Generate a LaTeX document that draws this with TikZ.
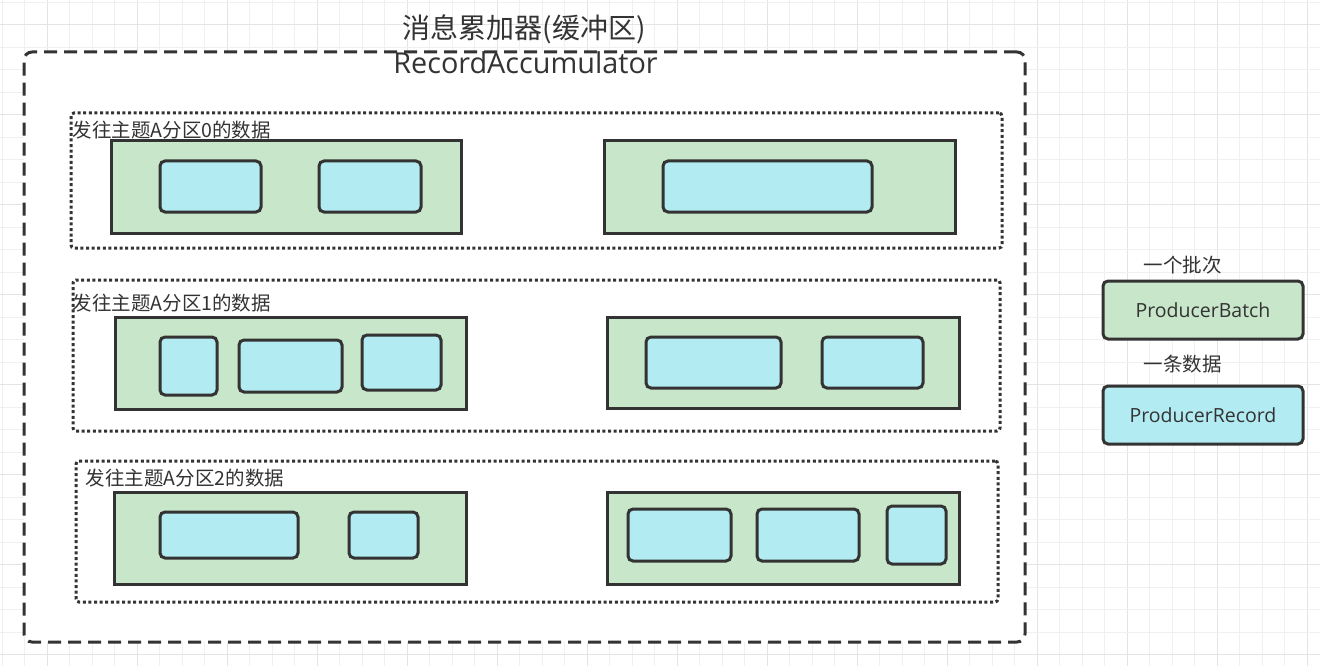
\documentclass[tikz,border=0pt]{standalone}
\usepackage{fontspec}
\setmainfont{Noto Sans CJK SC}
\newfontfamily\latinfont{Open Sans}
\definecolor{ink}{HTML}{333333}
\definecolor{batchfill}{HTML}{C8E6C9}
\definecolor{recfill}{HTML}{B2EBF2}
\definecolor{gridminor}{HTML}{F0F0F0}
\definecolor{gridmajor}{HTML}{E4E4E4}
\newcommand\placebox[6]{\node[#1, minimum width={#5-#3}, minimum height={#6-#4}] (#2) at ({(#3+#5)/2},{(#4+#6)/2}) {};}
\begin{document}
\begin{tikzpicture}[x=1pt,y=-1pt,
  outerbox/.style={draw=ink, line width=3pt, dash pattern=on 13pt off 7pt, rounded corners=8pt, fill=white, inner sep=0pt, outer sep=0pt},
  dotbox/.style={draw=ink, line width=3pt, dash pattern=on 3pt off 2.6pt, rounded corners=3pt, fill=white, inner sep=0pt},
  batchbox/.style={draw=ink, line width=3pt, fill=batchfill, inner sep=0pt},
  recbox/.style={draw=ink, line width=3pt, fill=recfill, rounded corners=5pt, inner sep=0pt},
  legbatch/.style={draw=ink, line width=3pt, fill=batchfill, rounded corners=5pt, inner sep=0pt, text=ink, font=\latinfont\fontsize{19.5}{22}\selectfont},
  legrec/.style={draw=ink, line width=3pt, fill=recfill, rounded corners=5pt, inner sep=0pt, text=ink, font=\latinfont\fontsize{19.5}{22}\selectfont},
  lbl/.style={text=ink, inner sep=0pt, font=\fontsize{19.5}{22}\selectfont},
  ttl/.style={text=ink, inner sep=0pt, font=\fontsize{28}{32}\selectfont},
  ttllatin/.style={text=ink, inner sep=0pt, font=\latinfont\fontsize{28.8}{32}\selectfont}
]
\useasboundingbox (0,0) rectangle (1320,666);
\fill[white] (0,0) rectangle (1320,666);
% background grid
\foreach \i in {0,...,58} {
  \pgfmathtruncatemacro\m{mod(\i,4)}
  \ifnum\m=2 \draw[gridmajor, line width=1pt] ({2.3+22.5*\i},0) -- ({2.3+22.5*\i},666);
  \else \draw[gridminor, line width=1pt] ({2.3+22.5*\i},0) -- ({2.3+22.5*\i},666); \fi
}
\foreach \i in {0,...,29} {
  \pgfmathtruncatemacro\m{mod(\i,4)}
  \ifnum\m=1 \draw[gridmajor, line width=1pt] (0,{2.3+22.5*\i}) -- (1320,{2.3+22.5*\i});
  \else \draw[gridminor, line width=1pt] (0,{2.3+22.5*\i}) -- (1320,{2.3+22.5*\i}); \fi
}
% outer accumulator
\placebox{outerbox}{acc}{24}{52}{1025}{642}
\node[ttl] (title) at (524,29.3) {消息累加器(缓冲区)};
\node[ttllatin] (titlelatin) at (525.5,63) {RecordAccumulator};
% partitions
\placebox{dotbox}{p0}{71}{113}{1002}{248}
\placebox{dotbox}{p1}{73}{280}{1000}{431}
\placebox{dotbox}{p2}{76}{461}{998}{602}
\node[lbl, anchor=west] (l0) at (72.5,130) {发往主题A分区0的数据};
\node[lbl, anchor=west] (l1) at (72.5,303.3) {发往主题A分区1的数据};
\node[lbl, anchor=west] (l2) at (85.7,478.3) {发往主题A分区2的数据};
% batches
\placebox{batchbox}{g0a}{111}{141}{461}{233}
\placebox{batchbox}{g0b}{604}{141}{955}{233}
\placebox{batchbox}{g1a}{115}{317}{466}{409}
\placebox{batchbox}{g1b}{607}{317}{959}{408}
\placebox{batchbox}{g2a}{114}{492}{466}{584}
\placebox{batchbox}{g2b}{607}{492}{959}{584}
% records
\placebox{recbox}{r0a1}{160}{161}{261}{212}
\placebox{recbox}{r0a2}{319}{161}{421}{212}
\placebox{recbox}{r0b1}{663}{161}{872}{212}
\placebox{recbox}{r1a1}{160}{337}{217}{395}
\placebox{recbox}{r1a2}{239}{340}{342}{392}
\placebox{recbox}{r1a3}{362}{335}{441}{390}
\placebox{recbox}{r1b1}{646}{337}{781}{388}
\placebox{recbox}{r1b2}{822}{337}{923}{388}
\placebox{recbox}{r2a1}{160}{512}{298}{558}
\placebox{recbox}{r2a2}{349}{512}{418}{558}
\placebox{recbox}{r2b1}{628}{509}{731}{561}
\placebox{recbox}{r2b2}{757}{509}{859}{561}
\placebox{recbox}{r2b3}{887}{506}{946}{564}
% legend
\node[lbl] (lgb) at (1182.5,265) {一个批次};
\node[legbatch, minimum width=200, minimum height=58] (pb) at (1203,310) {ProducerBatch};
\node[lbl] (lgr) at (1182.5,364) {一条数据};
\node[legrec, minimum width=200, minimum height=58] (pr) at (1203,415) {ProducerRecord};
\end{tikzpicture}
\end{document}
